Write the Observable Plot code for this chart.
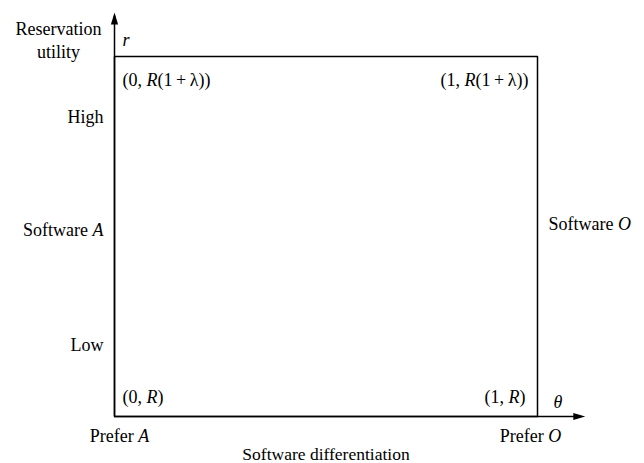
<!DOCTYPE html>
<html>
<head>
<meta charset="utf-8">
<script src="https://cdn.jsdelivr.net/npm/d3@7"></script>
<script src="https://cdn.jsdelivr.net/npm/@observablehq/plot@0.6"></script>
<style>
  html, body { margin: 0; padding: 0; background: #fff; }
  #chart svg { font-family: "Liberation Serif", "Times New Roman", serif; }
</style>
</head>
<body>
<div id="chart"></div>
<script>
// Domain: x = software differentiation θ (0 = prefer A, 1 = prefer O)
// y = reservation utility r (0 ↔ R, 1 ↔ R(1+λ))
const boxX = [0, 1, 1, 0, 0];
const boxY = [0, 0, 1, 1, 0];
const axisEndX = 1.113;   // x-axis arrow tip
const axisEndY = 1.122;   // y-axis arrow tip

const cornerLabels = ["(0, *R*)", "(1, *R*)", "(0, *R*(1\u2009+\u2009λ))", "(1, *R*(1\u2009+\u2009λ))"];
const cornerX = [0, 1, 0, 1];
const cornerY = [0, 0, 1, 1];

const leftLabels = ["High", "Software *A*", "Low"];
const leftY = [0.83, 0.517, 0.197];

const rightLabels = ["Software *O*"];
const rightY = [0.535];

const bottomLabels = ["Prefer *A*", "Prefer *O*"];
const bottomX = [0, 1];

const yAxisTitle = "Reservation\nutility";
const xAxisTitle = "Software differentiation";
const yVar = "*r*";
const xVar = "*θ*";

const corners = cornerLabels.map((t, i) => ({t, x: cornerX[i], y: cornerY[i]}));
const bottoms = bottomLabels.map((t, i) => ({t, x: bottomX[i]}));
const box = boxX.map((x, i) => ({x, y: boxY[i]}));

// narrow filled arrowhead, tip at origin pointing up
const arrowHead = {
  draw(ctx) {
    ctx.moveTo(0, 0);
    ctx.lineTo(3.6, 12);
    ctx.lineTo(-3.6, 12);
    ctx.closePath();
  }
};

const FS = 18;
const cornerText = (fx, fy, dx, dy) => Plot.text(corners, {
  filter: d => d.x === fx && d.y === fy,
  x: "x", y: "y", text: "t",
  textAnchor: fx === 0 ? "start" : "end",
  dx, dy, fontSize: FS
});
const bottomText = (fx, dx) => Plot.text(bottoms, {
  filter: d => d.x === fx,
  x: "x", y: 0, text: "t", textAnchor: "middle", dx, dy: 20, fontSize: FS
});

const chart = Plot.plot({
  width: 644,
  height: 463,
  marginLeft: 114,
  marginRight: 107,
  marginTop: 56,
  marginBottom: 47,
  x: {domain: [0, 1], axis: null},
  y: {domain: [0, 1], axis: null},
  style: {fontFamily: "Liberation Serif, Times New Roman, serif", fontSize: "18px", background: "#fff"},
  marks: [
    // box (top and right edges), axis lines
    Plot.line(box, {x: "x", y: "y", stroke: "black", strokeWidth: 1.5}),
    Plot.ruleX([0], {y1: 0, y2: axisEndY - 0.01, stroke: "black", strokeWidth: 1.5}),
    Plot.ruleY([0], {x1: 0, x2: axisEndX - 0.01, stroke: "black", strokeWidth: 1.5}),
    Plot.dot([0], {x: 0, y: axisEndY, symbol: arrowHead, fill: "black", stroke: "none", r: 4}),
    Plot.dot([0], {x: axisEndX, y: 0, symbol: arrowHead, fill: "black", stroke: "none", r: 4, rotate: 90}),
    // corner labels
    cornerText(0, 1, 8, 24),
    cornerText(1, 1, -9, 24),
    cornerText(0, 0, 8, -19),
    cornerText(1, 0, -12, -19),
    // left labels
    Plot.text(leftLabels, {x: 0, y: (d, i) => leftY[i], text: d => d, textAnchor: "end", dx: -11, fontSize: FS}),
    // right labels
    Plot.text(rightLabels, {x: 1, y: (d, i) => rightY[i], text: d => d, textAnchor: "start", dx: 11, fontSize: FS}),
    // bottom labels
    bottomText(0, 5),
    bottomText(1, -7),
    // axis titles
    Plot.text([xAxisTitle], {x: 0.5, y: 0, text: d => d, textAnchor: "middle", dx: 0, dy: 37.5, fontSize: 17.5}),
    Plot.text([yAxisTitle], {x: 0, y: 1, text: d => d, textAnchor: "middle", dx: -56, dy: -17.5, lineHeight: 1.28, fontSize: FS}),
    Plot.text([yVar], {x: 0, y: 1, text: d => d, textAnchor: "start", dx: 8, dy: -16, fontSize: FS}),
    Plot.text([xVar], {x: 1, y: 0, text: d => d, textAnchor: "start", dx: 16, dy: -14, fontSize: FS})
  ]
});

// Convert *...* segments to italic tspans
function italicize(el) {
  const txt = el.textContent;
  if (!txt.includes("*")) return;
  const parts = txt.split("*");
  while (el.firstChild) el.removeChild(el.firstChild);
  parts.forEach((p, i) => {
    if (!p) return;
    const ts = document.createElementNS("http://www.w3.org/2000/svg", "tspan");
    ts.textContent = p;
    if (i % 2 === 1) ts.setAttribute("font-style", "italic");
    el.appendChild(ts);
  });
}
chart.querySelectorAll("text").forEach(t => {
  const tspans = t.querySelectorAll("tspan");
  if (tspans.length) tspans.forEach(italicize); else italicize(t);
});

document.getElementById("chart").appendChild(chart);
</script>
</body>
</html>
